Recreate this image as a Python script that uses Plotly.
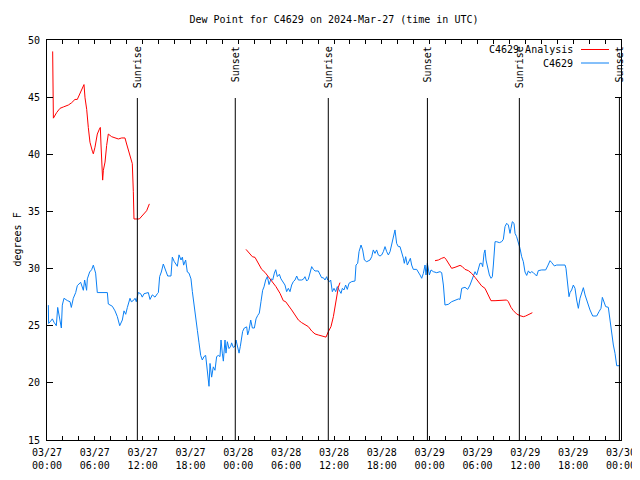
import pandas as pd
import plotly.graph_objects as go

START = pd.Timestamp("2024-03-27 00:00")

# Observed dew point (C4629): hours since 03/27 00:00 UTC, degrees F
obs_hours = [0.17, 0.20, 0.46, 0.67, 0.88, 1.17, 1.34, 1.51, 1.71, 1.80, 1.92, 2.13, 2.55, 2.89, 3.05, 3.30, 3.60, 3.80, 4.22, 4.56,
             4.72, 4.97, 5.06, 5.35, 5.60, 5.81, 6.10, 6.31, 6.52, 7.57, 7.69, 8.20, 8.53, 8.82, 9.12, 9.45, 9.66, 9.87, 10.08, 10.41,
             10.58, 10.83, 11.04, 11.20, 11.45, 11.75, 11.95, 12.17, 12.71, 12.92, 13.21, 13.55, 13.84, 13.97, 14.13, 14.34, 14.59,
             15.01, 15.14, 15.55, 15.72, 15.97, 16.18, 16.35, 16.56, 16.81, 16.98, 17.14, 17.39, 17.60, 17.81, 18.06, 18.23, 18.44,
             18.65, 18.86, 19.07, 19.28, 19.48, 19.69, 19.90, 20.11, 20.32, 20.45, 20.65, 20.86, 21.07, 21.28, 21.49, 21.70, 21.83,
             21.99, 22.12, 22.33, 22.45, 22.62, 22.83, 23.04, 23.16, 23.37, 23.58, 23.71, 23.92, 24.09, 24.25, 24.42, 24.54, 24.75,
             25.05, 25.17, 25.34, 25.55, 25.76, 26.01, 26.22, 26.43, 26.63, 26.84, 27.05, 27.22, 27.43, 27.64, 27.85, 28.10, 28.31,
             28.52, 28.69, 28.89, 29.15, 29.35, 29.65, 29.85, 30.06, 30.27, 30.48, 30.69, 30.90, 31.11, 31.32, 31.53, 31.94, 32.15,
             32.36, 32.57, 32.78, 32.99, 33.20, 33.41, 33.62, 34.03, 34.24, 34.45, 34.66, 34.87, 35.08, 35.21, 35.42, 35.58, 35.79,
             36.00, 36.21, 36.42, 36.63, 36.88, 37.05, 37.25, 37.46, 37.67, 37.88, 38.22, 38.63, 38.76, 38.97, 39.14, 39.39, 39.60,
             39.81, 40.10, 40.52, 40.73, 40.93, 41.14, 41.35, 41.56, 41.77, 41.98, 42.19, 42.40, 42.61, 42.82, 43.03, 43.23, 43.44,
             43.65, 43.86, 44.07, 44.28, 44.49, 44.70, 44.82, 44.99, 45.20, 45.41, 45.58, 45.74, 45.95, 46.37, 46.58, 46.79, 47.00,
             47.21, 47.42, 47.54, 47.71, 47.83, 47.96, 48.17, 48.46, 48.88, 49.30, 49.51, 49.72, 49.92, 50.34, 50.76, 51.18, 51.60,
             51.81, 52.02, 52.43, 52.77, 53.06, 53.27, 53.48, 53.69, 53.90, 54.11, 54.31, 54.52, 54.65, 54.82, 54.94, 55.07, 55.28,
             55.49, 55.70, 55.86, 55.99, 56.20, 56.41, 56.74, 57.03, 57.24, 57.45, 57.66, 57.87, 58.08, 58.20, 58.37, 58.58, 58.71,
             58.91, 59.12, 59.33, 59.54, 59.75, 59.96, 60.17, 60.38, 60.59, 60.80, 61.01, 61.42, 61.63, 62.05, 62.55, 62.80, 63.10,
             63.31, 63.64, 63.93, 64.98, 65.10, 65.27, 65.48, 65.60, 65.81, 66.02, 66.23, 66.44, 66.65, 66.86, 67.07, 67.28, 67.49,
             67.70, 67.90, 68.11, 68.45, 68.95, 69.24, 69.49, 69.66, 69.87, 70.08, 70.41, 70.62, 70.83, 71.04, 71.25, 71.46, 71.88]
obs_values = [26.8, 25.2, 25.4, 25.6, 25.3, 25.0, 26.6, 25.9, 25.4, 24.8, 26.8, 27.4, 27.2, 27.1, 26.6, 27.4, 27.9, 28.5, 28.8, 28.1,
              29.0, 28.1, 29.1, 29.7, 29.9, 30.3, 29.6, 27.9, 27.9, 27.9, 26.9, 26.7, 26.3, 25.8, 25.0, 25.5, 26.3, 26.0, 26.6, 27.4,
              27.1, 27.2, 27.4, 27.1, 27.9, 27.8, 27.5, 27.8, 27.9, 27.3, 27.7, 27.5, 27.8, 27.9, 29.3, 29.7, 30.4,
              29.6, 29.35, 29.35, 31.0, 30.6, 30.3, 30.2, 31.2, 30.75, 31.0, 30.3, 30.75, 29.7, 29.6, 29.1, 28.0, 26.7,
              25.5, 24.6, 23.5, 22.4, 22.0, 22.3, 22.4, 20.7, 19.7, 21.7, 20.5, 21.4, 21.1, 22.3, 22.4, 22.3, 23.75,
              22.6, 21.9, 23.75, 22.6, 23.6, 23.0, 23.2, 23.5, 23.1, 23.2, 23.75, 23.2, 22.6, 23.2, 23.9, 24.5, 24.8,
              24.9, 24.2, 24.6, 25.5, 24.8, 24.8, 25.6, 25.9, 26.1, 27.1, 28.1, 28.4, 29.0, 29.3, 28.6, 29.1, 29.0,
              29.6, 29.9, 29.3, 29.5, 29.1, 28.7, 28.56, 27.98, 28.27, 27.98, 28.56, 28.86, 29.0, 29.35, 29.0, 29.0, 29.06,
              29.29, 28.91, 29.06, 29.53, 30.17, 29.93, 29.79, 29.79, 29.44, 29.2, 29.2, 29.0, 29.29, 29.0, 28.86, 29.0, 27.98,
              28.27, 27.98, 28.42, 28.13, 27.83, 28.27, 28.13, 28.56, 28.18, 28.71, 28.86, 28.91, 30.31, 30.46, 31.48, 32.06, 31.63,
              30.75, 30.6, 30.75, 31.04, 31.63, 31.33, 31.63, 31.19, 31.1, 31.19, 31.48, 31.92, 31.48, 31.19, 31.48, 32.06, 32.79,
              33.38, 32.2, 31.92, 31.92, 31.48, 30.9, 30.46, 31.04, 30.31, 30.75, 30.9, 30.31, 29.93, 29.93, 29.73, 29.44, 29.15,
              29.58, 30.31, 29.44, 30.46, 30.02, 29.44, 29.88, 29.73, 29.64, 29.73, 29.64, 28.56, 26.81, 26.87, 27.1, 27.25, 27.34,
              27.31, 28.27, 28.36, 28.18, 28.56, 29.0, 29.44, 29.73, 29.44, 29.88, 30.46, 30.46, 30.17, 31.33, 31.63, 30.75, 30.17,
              29.44, 29.15, 29.29, 30.31, 32.35, 32.35, 32.27, 32.35, 32.56, 33.67, 33.96, 33.81, 33.08, 33.52, 34.1, 33.96, 33.08,
              32.79, 32.35, 31.77, 31.04, 30.6, 29.7, 29.4, 29.8, 29.6, 29.73, 29.64, 29.35, 29.82, 29.88, 29.88, 30.23, 30.69,
              30.52, 30.23, 30.31, 30.31, 30.02, 28.56, 27.54, 27.89, 28.13, 28.56, 28.27, 27.25, 26.52, 27.4, 27.83, 28.33, 27.69,
              27.25, 26.67, 26.38, 25.85, 25.85, 26.23, 26.52, 27.48, 27.1, 26.67, 26.61, 25.5, 24.04, 23.31, 22.58, 21.5, 21.5]

# Analysis dew point (C4629 Analysis): three runs
ana1_hours = [0.71, 0.72, 0.80, 1.21, 1.63, 2.05, 2.68, 3.09, 3.51, 3.80, 4.06, 4.35, 4.64, 4.77, 4.98, 5.18, 5.39, 5.69, 5.81,
              6.02, 6.31, 6.57, 6.69, 6.77, 6.86, 6.98, 7.07, 7.28, 7.48, 7.69, 8.11, 8.53, 8.95, 9.37, 9.78, 9.99, 10.20,
              10.50, 10.70, 10.83, 10.91, 11.58, 12.08, 12.50, 12.84]
ana1_values = [49.0, 46.1, 43.16, 43.65, 44.02, 44.14, 44.31, 44.51, 44.8, 44.8, 45.17, 45.66, 46.1, 44.94, 43.93, 42.35, 41.05,
               40.27, 40.04, 40.62, 41.77, 42.2, 42.35, 40.9, 38.89, 37.74, 38.6, 39.32, 40.76, 41.77, 41.54, 41.43, 41.34,
               41.43, 41.43, 40.9, 40.39, 39.7, 39.18, 36.73, 34.34, 34.34, 34.71, 35.06, 35.66]
ana2_hours = [24.96, 25.46, 25.76, 26.09, 26.43, 26.93, 27.34, 27.76, 28.18, 28.72, 29.23, 29.64, 29.94, 30.27, 30.69, 31.11,
              31.53, 31.94, 32.36, 32.78, 33.20, 33.62, 34.03, 34.45, 34.87, 35.00, 35.29, 35.62, 35.92, 36.13, 36.33, 36.54, 36.75]
ana2_values = [31.68, 31.27, 31.04, 30.98, 30.6, 29.93, 29.67, 29.29, 28.85, 28.42, 27.83, 27.19, 27.1, 26.73, 26.38, 25.94,
               25.5, 25.27, 25.06, 24.92, 24.54, 24.28, 24.19, 24.1, 24.04, 24.0, 24.48, 24.92, 25.79, 26.67, 27.54, 28.36, 28.77]
ana3_hours = [48.67, 49.09, 49.51, 49.84, 50.05, 50.34, 50.76, 51.18, 51.51, 51.81, 52.10, 52.43, 52.85, 53.27, 53.69, 54.11,
              54.52, 54.94, 55.36, 55.69, 56.20, 57.03, 57.66, 57.87, 58.20, 58.50, 58.91, 59.33, 59.75, 60.04, 60.46, 60.88]
ana3_values = [30.69, 30.75, 30.9, 30.98, 30.81, 30.46, 30.02, 30.11, 30.23, 30.28, 30.17, 29.93, 29.82, 29.58, 29.23, 28.86,
               28.48, 28.27, 27.69, 27.19, 27.19, 27.19, 27.25, 27.1, 26.61, 26.32, 26.03, 25.88, 25.79, 25.85, 26.0, 26.14]

sun_events = ["2024-03-27 11:20", "2024-03-27 23:37", "2024-03-28 11:17",
              "2024-03-28 23:43", "2024-03-29 11:15", "2024-03-29 23:48"]
sun_labels = ["Sunrise", "Sunset", "Sunrise", "Sunset", "Sunrise", "Sunset"]

tick_times = pd.date_range("2024-03-27 00:00", "2024-03-30 00:00", freq="2h")
y_ticks = [15, 20, 25, 30, 35, 40, 45, 50]

TITLE = "Dew Point for C4629 on 2024-Mar-27 (time in UTC)"
RED = "#ff0000"
BLUE = "#0a80f5"
FONT = "DejaVu Sans Mono"


def to_time(hours):
    return [START + pd.Timedelta(hours=h) for h in hours]


ana_x, ana_y = [], []
for hs, vs in [(ana1_hours, ana1_values), (ana2_hours, ana2_values), (ana3_hours, ana3_values)]:
    ana_x += to_time(hs) + [None]
    ana_y += vs + [None]

fig = go.Figure()
fig.add_trace(go.Scatter(x=to_time(obs_hours), y=obs_values, mode="lines",
                         line=dict(color=BLUE, width=1), name="C4629", showlegend=False))
fig.add_trace(go.Scatter(x=ana_x, y=ana_y, mode="lines", connectgaps=False,
                         line=dict(color=RED, width=1), name="C4629 Analysis", showlegend=False))

# page offset of the plot div (browser body margin)
OFF = 8
W, H = 640 - OFF, 480 - OFF
PL, PT, PR, PB = 47, 40, 621, 440          # plot area in page pixels
L, T = PL - OFF, PT - OFF
R, B = W - (PR - OFF), H - (PB - OFF)
pw, ph = PR - PL, PB - PT


def px_x(p):
    return (p - PL) / pw


def px_y(p):
    return (PB - p) / ph


shapes = []
annotations = []
for t, lab in zip(sun_events, sun_labels):
    shapes.append(dict(type="line", xref="x", yref="paper", x0=t, x1=t, y0=0, y1=px_y(98),
                       line=dict(color="black", width=1)))
    annotations.append(dict(x=t, xref="x", yref="paper", y=px_y(44), yanchor="top",
                            xanchor="center", text=lab, textangle=-90, showarrow=False,
                            font=dict(family=FONT, size=10, color="black")))

# manual legend (text right-aligned, sample line to its right)
for lab, col, py in [("C4629 Analysis", RED, 49.5), ("C4629", BLUE, 63)]:
    annotations.append(dict(x=px_x(575), y=px_y(py), xref="paper", yref="paper", xanchor="right",
                            yanchor="middle", text=lab, showarrow=False,
                            font=dict(family=FONT, size=10, color="black")))
    shapes.append(dict(type="line", xref="paper", yref="paper", x0=px_x(581), x1=px_x(609),
                       y0=px_y(py), y1=px_y(py), line=dict(color=col, width=1)))

annotations.append(dict(x=px_x(9), y=0.5, xref="paper", yref="paper", text="degrees F",
                        textangle=-90, showarrow=False, xanchor="left", yanchor="middle",
                        font=dict(family=FONT, size=10, color="black")))

tick_text = [t.strftime("%m/%d<br>%H:%M") if t.hour % 6 == 0 else "" for t in tick_times]

fig.update_layout(
    width=W, height=H,
    margin=dict(l=L, r=R, t=T, b=B, autoexpand=False),
    paper_bgcolor="white", plot_bgcolor="white",
    font=dict(family=FONT, size=10, color="black"),
    title=dict(text=TITLE, x=(334 - OFF) / W, xanchor="center", y=1 - (19 - OFF) / H, yanchor="middle",
               font=dict(family=FONT, size=10, color="black")),
    shapes=shapes, annotations=annotations,
    showlegend=False,
    xaxis=dict(range=[START, START + pd.Timedelta(hours=72)], tickvals=list(tick_times), ticktext=tick_text,
               ticks="inside", ticklen=4, tickcolor="black", showgrid=False, zeroline=False,
               showline=True, linecolor="black", linewidth=1, mirror="allticks", automargin=False,
               ticklabelstandoff=3,
               tickfont=dict(family=FONT, size=10, color="black")),
    yaxis=dict(range=[15, 50], tickvals=y_ticks, ticks="inside", ticklen=6, tickcolor="black",
               showgrid=False, zeroline=False, showline=True, linecolor="black", linewidth=1,
               mirror="allticks", automargin=False, ticklabelstandoff=4,
               tickfont=dict(family=FONT, size=10, color="black")),
)

fig.write_html("out.html")
